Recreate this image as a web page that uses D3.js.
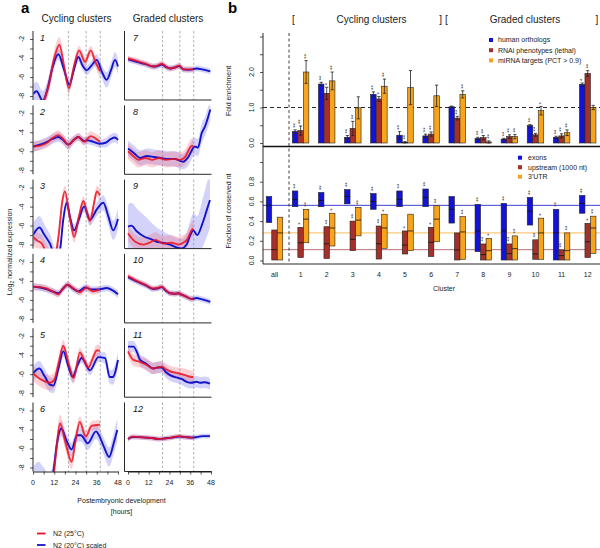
<!DOCTYPE html>
<html>
<head>
<meta charset="utf-8">
<script src="https://cdn.jsdelivr.net/npm/d3@7/dist/d3.min.js"></script>
<style>
html,body{margin:0;padding:0;background:#fff;}
svg{display:block;font-family:"Liberation Sans",Arial,Helvetica,sans-serif;}
</style>
</head>
<body>
<svg id="fig" width="600" height="548"></svg>
<script>
// ================= DATA : panel a =================
const cyclingClusters = [1,2,3,4,5,6];
const gradedClusters  = [7,8,9,10,11,12];
const hourTicks  = [0,6,12,18,24,30,36,42,48];
const hourLabels = [0,12,24,36,48];
const exprTicks  = [-2,-3,-4,-5,-6,-7,-8];
const exprLabels = [-2,-4,-6,-8];
const moltHours  = [20,30,38];

// [hour, log2 normalized expression, band half-width]
const red1 = [[0,-10,0.6],[4,-10,0.6],[6,-8.7,0.7],[9,-6.8,0.8],[12,-4.0,0.8],[14.9,-2.6,0.8],[17.5,-4.8,0.7],[20.3,-7.2,0.6],[23,-5.0,0.6],[26,-3.2,0.5],[29.4,-4.4,0.5],[32.6,-3.2,0.5],[35,-4.3,0.6],[37.8,-5.4,0.7]];
const blue1 = [[0,-7.8,1.0],[2,-7.5,1.0],[5.5,-8.5,1.0],[8,-7.4,0.9],[11,-5.0,0.8],[14.3,-3.6,0.6],[17.5,-5.2,0.6],[20.5,-6.8,0.6],[23,-5.3,0.5],[25.6,-3.9,0.5],[28,-4.8,0.5],[30.3,-5.3,0.5],[33,-4.8,0.5],[36,-4.2,0.6],[39,-5.5,0.7],[41.6,-6.3,0.8],[44,-5.3,0.8],[46.3,-4.2,0.8],[48,-4.9,0.8]];
const red2 = [[0,-5.5,0.5],[4,-5.4,0.5],[8,-5.1,0.5],[11,-4.6,0.5],[14.3,-4.3,0.5],[17,-4.7,0.5],[20,-5.3,0.5],[23,-4.8,0.4],[25.6,-4.5,0.4],[28.9,-5.0,0.4],[32.6,-4.4,0.5],[35,-4.6,0.5],[37.8,-5.0,0.6]];
const blue2 = [[0,-5.5,0.6],[4,-5.3,0.5],[8,-5.0,0.5],[11,-4.7,0.5],[14.3,-4.5,0.5],[17,-4.8,0.5],[20,-5.3,0.5],[23,-4.8,0.4],[25.6,-4.5,0.4],[28.9,-4.9,0.4],[31,-4.85,0.4],[34,-5.0,0.4],[37.6,-5.2,0.4],[41,-5.1,0.5],[44,-4.7,0.5],[46.3,-4.55,0.5],[48,-4.8,0.5]];
const red3 = [[0,-7.2,0.9],[2.5,-7.6,0.9],[5,-7.9,0.9],[8,-9.0,0.9],[12,-9.5,0.8],[14.5,-7.0,0.8],[16.5,-3.5,0.7],[18,-2.4,0.6],[20.5,-4.8,0.6],[23.2,-7.2,0.6],[26,-5.0,0.5],[28.4,-3.4,0.5],[30.5,-4.6,0.5],[32.2,-5.5,0.5],[34.5,-3.6,0.5],[36,-2.4,0.6],[37.8,-2.8,0.7]];
const blue3 = [[0,-7.0,1.2],[3.6,-6.2,1.2],[6.5,-7.0,1.1],[9.6,-7.9,1.0],[12.5,-9.2,0.9],[15,-8.8,0.8],[17,-5.5,0.7],[19,-3.6,0.6],[21,-5.2,0.6],[23.2,-6.5,0.6],[26,-5.3,0.6],[28.8,-4.0,0.6],[32.2,-5.4,0.6],[36,-4.3,0.7],[39.7,-3.6,0.8],[42.5,-5.0,0.9],[45.3,-6.5,1.0],[48,-5.3,1.1]];
const red4 = [[0,-4.6,0.35],[4,-4.65,0.35],[7.7,-4.8,0.35],[11,-5.1,0.35],[14.3,-5.4,0.35],[17,-4.8,0.35],[19.4,-4.4,0.35],[23,-4.8,0.35],[26.5,-5.2,0.35],[30.3,-4.7,0.35],[34,-5.1,0.35],[37.8,-4.9,0.4]];
const blue4 = [[0,-4.6,0.35],[4,-4.7,0.35],[8,-4.9,0.35],[11,-5.1,0.35],[14.3,-5.3,0.35],[17,-4.8,0.35],[19.4,-4.4,0.35],[22.5,-4.8,0.35],[25.6,-5.1,0.35],[29.4,-4.7,0.35],[33.2,-4.9,0.35],[37,-4.9,0.35],[41.6,-4.75,0.35],[45,-5.0,0.35],[48,-5.4,0.4]];
const red5 = [[0,-5.9,0.8],[2.5,-6.3,0.8],[4.9,-6.6,0.8],[9.6,-6.9,0.8],[12,-6.6,0.8],[14.5,-4.8,0.7],[17.1,-3.0,0.6],[20,-4.8,0.6],[23,-6.4,0.6],[26.5,-3.7,0.5],[28.8,-4.5,0.5],[31.3,-5.3,0.5],[33.8,-4.3,0.5],[36,-3.5,0.6],[37.8,-3.5,0.6]];
const blue5 = [[0,-5.9,0.8],[3.6,-5.4,0.8],[6.5,-6.2,0.8],[9.6,-7.1,0.8],[11.5,-7.2,0.8],[14.5,-5.3,0.7],[17.1,-3.6,0.6],[20,-5.2,0.6],[22.4,-6.3,0.6],[25,-5.1,0.5],[27.5,-4.3,0.5],[32.2,-5.6,0.5],[36.9,-4.2,0.5],[40.7,-4.3,0.6],[43.3,-6.3,0.7],[45,-6.3,0.8],[48,-4.5,0.8]];
const red6 = [[0,-10,1.0],[8,-10,1.0],[11,-9.5,1.0],[13,-6.5,1.0],[15.2,-3.35,0.9],[18.5,-5.5,0.8],[21.8,-7.4,0.8],[24,-5.2,0.7],[26.4,-3.2,0.6],[29.8,-4.75,0.6],[33.2,-3.6,0.5],[37.8,-3.5,0.5]];
const blue6 = [[0,-9.5,1.5],[3,-9.0,1.6],[6,-9.4,1.4],[9,-9.8,1.2],[11.5,-8.4,1.0],[13.5,-5.5,0.9],[16,-3.9,0.8],[19,-5.2,0.7],[21.8,-6.1,0.7],[24.9,-4.6,0.7],[27.1,-4.6,0.7],[30.9,-5.45,0.7],[35.6,-4.2,0.8],[37.5,-4.7,0.8],[40,-5.8,0.9],[43,-6.9,1.0],[45.5,-5.5,1.1],[47.6,-4.05,1.2]];
const red7 = [[0,-4.05,0.3],[5,-4.3,0.3],[10,-4.6,0.3],[14.6,-4.9,0.3],[17,-4.8,0.3],[19.5,-4.6,0.3],[22,-4.9,0.3],[24.3,-5.1,0.3],[27,-5.0,0.3],[29.7,-4.8,0.3],[32,-5.2,0.3],[35,-5.2,0.3],[37.6,-5.2,0.3]];
const blue7 = [[0,-4.15,0.3],[5,-4.4,0.3],[10,-4.65,0.3],[14.6,-4.9,0.3],[17,-4.85,0.3],[19.5,-4.7,0.3],[22,-4.95,0.3],[24.3,-5.1,0.3],[27,-5.0,0.3],[29.7,-4.85,0.3],[32,-5.2,0.3],[35,-5.25,0.3],[37.6,-5.2,0.3],[39.7,-5.1,0.3],[43,-5.2,0.3],[47.6,-5.4,0.3]];
const red8 = [[0,-6.0,0.8],[3,-6.5,0.8],[6,-6.9,0.8],[10,-6.7,0.8],[14,-6.9,0.8],[18,-6.7,0.8],[22,-6.9,0.8],[26,-6.8,0.8],[30,-6.9,0.8],[33,-6.6,0.8],[36.4,-5.5,0.8],[37.8,-5.4,0.8]];
const blue8 = [[0,-5.7,0.8],[3.5,-6.2,0.8],[7,-6.7,0.8],[11,-6.5,0.8],[15,-6.6,0.8],[19,-6.7,0.8],[23,-6.8,0.8],[27,-6.8,0.8],[30,-7.0,0.8],[32,-7.1,0.8],[34.5,-6.7,0.9],[38.7,-5.5,0.9],[40.5,-5.6,0.9],[42.6,-4.1,1.0],[44.5,-3.4,1.0],[47.6,-1.6,1.1]];
const red9 = [[0,-6.8,0.8],[4.2,-7.7,0.8],[9,-8.0,0.8],[12.5,-7.8,0.8],[15.8,-7.5,0.8],[20.6,-7.9,0.8],[25,-7.8,0.8],[29.3,-8.0,0.8],[32,-7.8,0.8],[34.1,-7.5,0.8],[36.8,-6.5,0.8],[37.8,-6.3,0.8]];
const blue9 = [[0,-6.1,2.3],[2,-6.0,2.4],[5,-6.6,2.4],[9.8,-7.2,2.2],[13,-7.4,1.8],[16.6,-7.7,1.5],[20,-7.8,1.2],[24.3,-8.0,1.0],[28,-8.3,1.0],[31,-8.4,1.0],[33.9,-8.0,1.2],[36,-7.0,1.5],[37.8,-6.5,1.8],[40,-7.0,2.0],[43,-5.8,2.5],[45.5,-4.4,2.8],[47.4,-3.3,3.0]];
const red10 = [[0,-3.5,0.3],[5,-4.0,0.3],[10,-4.4,0.3],[14.6,-4.8,0.3],[17,-4.75,0.3],[19.5,-4.6,0.3],[22,-5.0,0.3],[24.3,-5.3,0.3],[27,-5.35,0.3],[29.1,-5.3,0.3],[31,-5.45,0.3],[33,-5.6,0.3],[36.8,-5.9,0.3],[37.8,-5.9,0.3]];
const blue10 = [[0,-3.6,0.3],[5,-4.05,0.3],[10,-4.45,0.3],[14.6,-4.85,0.3],[17,-4.8,0.3],[19.5,-4.65,0.3],[22,-5.05,0.3],[24.3,-5.3,0.3],[27,-5.35,0.3],[29.1,-5.3,0.3],[31,-5.45,0.3],[33,-5.6,0.3],[36.8,-5.9,0.3],[39.7,-5.8,0.3],[42,-5.9,0.3],[44,-6.0,0.3],[47.6,-6.2,0.3]];
const red11 = [[0,-3.6,0.6],[3.1,-4.5,0.6],[7,-4.7,0.6],[10.5,-5.0,0.6],[14.6,-5.4,0.6],[17,-5.3,0.6],[19.5,-5.2,0.6],[22,-5.5,0.6],[24.3,-5.7,0.6],[29.1,-5.9,0.6],[33,-6.1,0.7],[36.8,-6.3,0.7],[37.8,-6.3,0.7]];
const blue11 = [[0,-3.1,0.6],[3.1,-3.1,0.6],[5,-3.6,0.6],[7,-4.5,0.6],[10.5,-4.9,0.6],[14.6,-5.4,0.6],[17,-5.3,0.6],[19.5,-5.3,0.6],[22,-5.8,0.6],[24.3,-6.1,0.6],[29.1,-6.4,0.6],[31,-6.5,0.6],[33.9,-6.8,0.6],[36.5,-6.9,0.6],[39.7,-6.8,0.6],[42,-6.9,0.6],[44,-6.85,0.6],[47.4,-7.0,0.6]];
const red12 = [[0,-5.0,0.25],[2.5,-4.75,0.25],[6,-4.8,0.25],[10,-4.85,0.25],[14,-4.9,0.25],[17.6,-5.0,0.25],[21,-4.95,0.25],[25,-4.85,0.25],[29.7,-4.7,0.25],[33,-4.8,0.25],[36.8,-4.85,0.25],[37.8,-4.85,0.25]];
const blue12 = [[0,-5.0,0.25],[2.5,-4.8,0.25],[6,-4.8,0.25],[10,-4.85,0.25],[14,-4.9,0.25],[17.6,-5.0,0.25],[21,-4.95,0.25],[25,-4.85,0.25],[29.7,-4.75,0.25],[33,-4.8,0.25],[36.8,-4.85,0.25],[39.7,-4.8,0.25],[43,-4.7,0.25],[47.4,-4.7,0.25]];

// ================= DATA : panel b =================
const clusterNames = ["all","1","2","3","4","5","6","7","8","9","10","11","12"];
// fold enrichment, clusters 1..12
const foldHuman = [0.32,1.66,0.16,1.37,0.22,0.20,1.02,0.13,0.11,0.49,0.16,1.65];
const errHuman  = [0.05,0.05,0.05,0.07,0.10,0.05,0.02,0.03,0.02,0.03,0.03,0.04];
const foldRNAi  = [0.35,1.40,0.41,1.24,0.02,0.25,0.70,0.15,0.18,0.23,0.20,1.96];
const errRNAi   = [0.13,0.17,0.20,0.07,0.02,0.06,0.05,0.06,0.05,0.04,0.06,0.08];
const foldMiRNA = [2.00,1.75,0.99,1.60,1.56,1.33,1.37,0.03,0.18,0.91,0.29,1.00];
const errMiRNA  = [0.32,0.25,0.31,0.20,0.48,0.30,0.10,0.03,0.06,0.12,0.08,0.06];
const sigHuman  = ["**","**","**","**","**","**","","**","**","**","**","*"];
const sigRNAi   = ["**","*","**","*","**","**","**","**","**","**","**","**"];
const sigMiRNA  = ["**","**","","**","","","**","**","**","*","**",""];
// fraction of conserved nt, categories all,1..12 : low / median / high
const exonLow  = [0.385,0.546,0.546,0.575,0.52,0.546,0.546,0.38,0.09,0.005,0.36,0.005,0.48];
const exonMed  = [0.56,0.62,0.61,0.65,0.60,0.62,0.64,0.52,0.30,0.30,0.50,0.28,0.58];
const exonHigh = [0.65,0.706,0.69,0.72,0.68,0.706,0.726,0.65,0.57,0.58,0.64,0.52,0.66];
const upLow    = [0.005,0.03,0.02,0.10,0.015,0.066,0.04,0.005,0.005,0.005,0.012,0.005,0.03];
const upMed    = [0.11,0.18,0.17,0.215,0.17,0.157,0.185,0.107,0.06,0.07,0.066,0.05,0.19];
const upHigh   = [0.31,0.337,0.343,0.40,0.35,0.30,0.337,0.28,0.168,0.168,0.21,0.107,0.378];
const utrLow   = [0.005,0.18,0.147,0.25,0.124,0.10,0.19,0.012,0.005,0.005,0.012,0.005,0.073];
const utrMed   = [0.28,0.42,0.33,0.41,0.33,0.30,0.42,0.29,0.10,0.12,0.28,0.10,0.33];
const utrHigh  = [0.44,0.52,0.48,0.54,0.47,0.47,0.556,0.445,0.225,0.25,0.43,0.28,0.45];
const sigExon  = ["","**","**","**","**","**","**","","**","**","**","**","**"];
const sigUp    = ["","*","**","**","**","*","*","","**","**","**","**","*"];
const sigUtr   = ["","**","*","**","*","","**","**","*","**","*","**","**"];
const refExon = 0.56, refUp = 0.11, refUtr = 0.28;
const foldTicks = [0,0.5,1,1.5,2,2.5,3];
const foldLabels = [0,1,2];
const fracTicks = [0,0.2,0.4,0.6,0.8,1.0];
const fracLabels = [0,0.2,0.4,0.6,0.8];

// ================= DRAW =================
const svg = d3.select("#fig");
const defs = svg.append("defs");
const RED = "#ec1020", BLUE = "#1414cc";
const C_BLUE = "#1212d8", C_RED = "#a3302b", C_ORANGE = "#f7a41c";
const redCurves  = {1:red1,2:red2,3:red3,4:red4,5:red5,6:red6,7:red7,8:red8,9:red9,10:red10,11:red11,12:red12};
const blueCurves = {1:blue1,2:blue2,3:blue3,4:blue4,5:blue5,6:blue6,7:blue7,8:blue8,9:blue9,10:blue10,11:blue11,12:blue12};

function rotText(g, x, y, txt, size, anchor) {
  return g.append("text").attr("transform", `translate(${x},${y}) rotate(-90)`)
    .attr("text-anchor", anchor || "middle").attr("font-size", size).attr("fill","#222").text(txt);
}

// ---- panel a ----
svg.append("text").attr("x",21).attr("y",12.5).attr("font-size",15).attr("font-weight","bold").text("a");
svg.append("text").attr("x",76.5).attr("y",22).attr("text-anchor","middle").attr("font-size",10).attr("fill","#222").text("Cycling clusters");
svg.append("text").attr("x",168).attr("y",22).attr("text-anchor","middle").attr("font-size",10).attr("fill","#222").text("Graded clusters");

cyclingClusters.concat(gradedClusters).forEach(k => {
  const col = gradedClusters.includes(k) ? 1 : 0;
  const row = col ? gradedClusters.indexOf(k) : cyclingClusters.indexOf(k);
  const Y2 = 39 + 74.3 * row;
  const x = d3.scaleLinear().domain([0,48]).range(col ? [128,211] : [33,118]);
  const y = d3.scaleLinear().domain([-2,-8]).range([Y2, Y2 + 57]);
  const top = Y2 - 8, bot = Y2 + 61;
  const clipId = "clip" + k;
  defs.append("clipPath").attr("id", clipId).append("rect")
    .attr("x", col ? 125 : 33.5).attr("y", top).attr("width", col ? 87 : 86).attr("height", bot - top);
  const g = svg.append("g");
  g.selectAll("line.molt").data(moltHours).join("line").attr("class","molt")
    .attr("x1", d => x(d)).attr("x2", d => x(d)).attr("y1", top).attr("y2", bot)
    .attr("stroke", "#8c8c8c").attr("stroke-width", 0.7).attr("stroke-dasharray", "2.5,2");
  const gc = g.append("g").attr("clip-path", `url(#${clipId})`);
  const area = d3.area().x(d => x(d[0])).y0(d => y(d[1] - d[2])).y1(d => y(d[1] + d[2])).curve(d3.curveMonotoneX);
  const line = d3.line().x(d => x(d[0])).y(d => y(d[1])).curve(d3.curveMonotoneX);
  gc.append("path").attr("d", area(blueCurves[k])).attr("fill", "#6a6af2").attr("fill-opacity", 0.3);
  gc.append("path").attr("d", area(redCurves[k])).attr("fill", "#f27080").attr("fill-opacity", 0.32);
  gc.append("path").attr("d", line(blueCurves[k])).attr("fill","none").attr("stroke", BLUE).attr("stroke-width", 1.9);
  gc.append("path").attr("d", line(redCurves[k])).attr("fill","none").attr("stroke", RED).attr("stroke-width", 1.9).attr("stroke-opacity", 0.85);
  // panel number
  g.append("text").attr("x", col ? 133 : 40).attr("y", Y2 + 1.5).attr("font-size", 9).attr("font-style","italic").attr("fill","#111").text(k);
  if (!col) {
    const ax = g.append("g").attr("transform", "translate(33,0)")
      .call(d3.axisLeft(y).tickValues(exprTicks).tickSize(3).tickFormat(""));
    ax.select(".domain").remove();
    ax.selectAll("line").attr("stroke","#111").attr("stroke-width",0.7);
    g.append("line").attr("x1",33).attr("x2",33).attr("y1",top).attr("y2",bot).attr("stroke","#111").attr("stroke-width",0.9);
    exprLabels.forEach(v => rotText(g, 24, y(v), String(v), 7));
  } else {
    g.append("line").attr("x1",124.5).attr("x2",124.5).attr("y1",top).attr("y2",bot).attr("stroke","#111").attr("stroke-width",0.9);
    g.append("line").attr("x1",124.5).attr("x2",211.5).attr("y1",bot).attr("y2",bot).attr("stroke","#111").attr("stroke-width",0.9);
  }
  if (row === 5) {
    const bx = g.append("g").attr("transform", `translate(0,${bot})`)
      .call(d3.axisBottom(x).tickValues(hourTicks).tickSize(3).tickSizeOuter(0).tickFormat(""));
    bx.select(".domain").attr("stroke","#111").attr("stroke-width",0.9);
    bx.selectAll("line").attr("stroke","#111").attr("stroke-width",0.7);
    g.selectAll("text.hl").data(hourLabels).join("text").attr("class","hl")
      .attr("x", d => x(d)).attr("y", bot + 13.5).attr("text-anchor","middle").attr("font-size",7).attr("fill","#222").text(d => d);
  }
});

const yt = svg.append("text").attr("transform","translate(12,252) rotate(-90)").attr("text-anchor","middle").attr("font-size",7).attr("fill","#222");
yt.append("tspan").text("Log");
yt.append("tspan").attr("font-size",5).attr("dy",1.5).text("2");
yt.append("tspan").attr("dy",-1.5).text(" normalized expression");
svg.append("text").attr("x",121.5).attr("y",503).attr("text-anchor","middle").attr("font-size",7).attr("fill","#222").text("Postembryonic development");
svg.append("text").attr("x",121.5).attr("y",514).attr("text-anchor","middle").attr("font-size",7).attr("fill","#222").text("[hours]");
[["N2 (25°C)", RED, 533.5], ["N2 (20°C) scaled", BLUE, 545]].forEach(([t,c,yy]) => {
  svg.append("line").attr("x1",37).attr("x2",45.5).attr("y1",yy).attr("y2",yy).attr("stroke",c).attr("stroke-width",1.8);
  svg.append("text").attr("x",53).attr("y",yy+2.5).attr("font-size",7).attr("fill","#222").text(t);
});

// ---- panel b ----
svg.append("text").attr("x",228).attr("y",12.5).attr("font-size",15).attr("font-weight","bold").text("b");
const hdr = (x, t, anchor) => svg.append("text").attr("x",x).attr("y",23).attr("text-anchor",anchor||"middle").attr("font-size",10).attr("fill","#222").text(t);
hdr(293.5,"[","middle"); hdr(371.5,"Cycling clusters"); hdr(443.5,"] ["); hdr(525,"Graded clusters"); hdr(597,"]");

const xb = d3.scaleBand().domain(clusterNames).range([261.45, 600.75]);
const cx = d => xb(d) + xb.bandwidth() / 2;
const yTop = d3.scaleLinear().domain([0,3]).range([143, 36.5]);
const yBot = d3.scaleLinear().domain([0,1]).range([260.5, 162]);
const BW = 5.5, offs = [-8.25, -2.75, 2.75];
const gb = svg.append("g");

// reference lines
gb.append("line").attr("x1",263).attr("x2",600).attr("y1",yTop(1)).attr("y2",yTop(1)).attr("stroke","#111").attr("stroke-width",0.9).attr("stroke-dasharray","4,3");
[[refExon,"#2a2ad0",0.9],[refUtr,"#f8c878",1.1],[refUp,"#b06068",0.9]].forEach(([v,c,w]) =>
  gb.append("line").attr("x1",263).attr("x2",600).attr("y1",yBot(v)).attr("y2",yBot(v)).attr("stroke",c).attr("stroke-width",w));

// top bars
const topSeries = [
  {v: foldHuman, e: errHuman, s: sigHuman, c: C_BLUE},
  {v: foldRNAi,  e: errRNAi,  s: sigRNAi,  c: C_RED},
  {v: foldMiRNA, e: errMiRNA, s: sigMiRNA, c: C_ORANGE}
];
topSeries.forEach((ser, si) => {
  const names = clusterNames.slice(1);
  const data = names.map((n,i) => ({n, v: ser.v[i], e: ser.e[i], s: ser.s[i]}));
  gb.selectAll(null).data(data).join("rect")
    .attr("x", d => cx(d.n) + offs[si]).attr("width", BW)
    .attr("y", d => yTop(d.v)).attr("height", d => yTop(0) - yTop(d.v))
    .attr("fill", ser.c).attr("stroke","#222").attr("stroke-width",0.6);
  data.forEach(d => {
    const xc = cx(d.n) + offs[si] + BW/2;
    const y1 = yTop(Math.max(0, d.v - d.e)), y2 = yTop(d.v + d.e);
    gb.append("line").attr("x1",xc).attr("x2",xc).attr("y1",y1).attr("y2",y2).attr("stroke","#222").attr("stroke-width",0.8);
    [y1,y2].forEach(yy => gb.append("line").attr("x1",xc-1.6).attr("x2",xc+1.6).attr("y1",yy).attr("y2",yy).attr("stroke","#222").attr("stroke-width",0.8));
    if (d.s) rotText(gb, xc + 1.8, y2 - 2, d.s, 6, "start");
  });
});

// bottom boxes
const botSeries = [
  {lo: exonLow, md: exonMed, hi: exonHigh, s: sigExon, c: C_BLUE},
  {lo: upLow,   md: upMed,   hi: upHigh,   s: sigUp,   c: C_RED},
  {lo: utrLow,  md: utrMed,  hi: utrHigh,  s: sigUtr,  c: C_ORANGE}
];
botSeries.forEach((ser, si) => {
  const data = clusterNames.map((n,i) => ({n, lo: ser.lo[i], md: ser.md[i], hi: ser.hi[i], s: ser.s[i]}));
  gb.selectAll(null).data(data).join("rect")
    .attr("x", d => cx(d.n) + offs[si]).attr("width", BW)
    .attr("y", d => yBot(d.hi)).attr("height", d => yBot(d.lo) - yBot(d.hi))
    .attr("fill", ser.c).attr("stroke","#222").attr("stroke-width",0.6);
  gb.selectAll(null).data(data).join("line")
    .attr("x1", d => cx(d.n) + offs[si]).attr("x2", d => cx(d.n) + offs[si] + BW)
    .attr("y1", d => yBot(d.md)).attr("y2", d => yBot(d.md)).attr("stroke","#111").attr("stroke-width",0.8);
  data.forEach(d => { if (d.s) rotText(gb, cx(d.n) + offs[si] + BW/2 + 1.8, yBot(d.hi) - 2.5, d.s, 6, "start"); });
});

// axes lines
gb.append("line").attr("x1",263).attr("x2",263).attr("y1",33).attr("y2",264).attr("stroke","#111").attr("stroke-width",0.9);
gb.append("line").attr("x1",263).attr("x2",600).attr("y1",146.5).attr("y2",146.5).attr("stroke","#111").attr("stroke-width",1.6);
gb.append("line").attr("x1",263).attr("x2",600).attr("y1",264).attr("y2",264).attr("stroke","#111").attr("stroke-width",0.9);
gb.append("line").attr("x1",289).attr("x2",289).attr("y1",33).attr("y2",264).attr("stroke","#111").attr("stroke-width",0.8).attr("stroke-dasharray","3,2.5");

const ta = gb.append("g").attr("transform","translate(263,0)").call(d3.axisLeft(yTop).tickValues(foldTicks).tickSize(3).tickFormat(""));
ta.select(".domain").remove(); ta.selectAll("line").attr("stroke","#111").attr("stroke-width",0.7);
foldLabels.forEach(v => rotText(gb, 254, yTop(v), d3.format(".1f")(v), 7));
const ba = gb.append("g").attr("transform","translate(263,0)").call(d3.axisLeft(yBot).tickValues(fracTicks).tickSize(3).tickFormat(""));
ba.select(".domain").remove(); ba.selectAll("line").attr("stroke","#111").attr("stroke-width",0.7);
fracLabels.forEach(v => rotText(gb, 254, yBot(v), d3.format(".1f")(v), 7));

rotText(gb, 231, 91, "Fold enrichment", 7);
rotText(gb, 231, 211, "Fraction of conserved nt", 7);

gb.selectAll("text.cl").data(clusterNames).join("text").attr("class","cl")
  .attr("x", d => cx(d)).attr("y", 277).attr("text-anchor","middle").attr("font-size",7).attr("fill","#222").text(d => d);
gb.append("text").attr("x",444).attr("y",291).attr("text-anchor","middle").attr("font-size",7).attr("fill","#222").text("Cluster");

// legends
const leg1 = [["human orthologs", C_BLUE], ["RNAi phenotypes (lethal)", C_RED], ["miRNA targets (PCT > 0.9)", C_ORANGE]];
leg1.forEach(([t,c],i) => {
  const yy = 40 + 10.2*i;
  gb.append("rect").attr("x",489).attr("y",yy-2).attr("width",4).attr("height",4).attr("fill",c);
  gb.append("text").attr("x",498).attr("y",yy+2.4).attr("font-size",7).attr("fill","#222").text(t);
});
const leg2 = [["exons", C_BLUE], ["upstream (1000 nt)", C_RED], ["3'UTR", C_ORANGE]];
leg2.forEach(([t,c],i) => {
  const yy = 157.7 + 9.5*i;
  gb.append("rect").attr("x",518).attr("y",yy-2).attr("width",4).attr("height",4).attr("fill",c);
  gb.append("text").attr("x",528).attr("y",yy+2.4).attr("font-size",7).attr("fill","#222").text(t);
});
</script>
</body>
</html>
